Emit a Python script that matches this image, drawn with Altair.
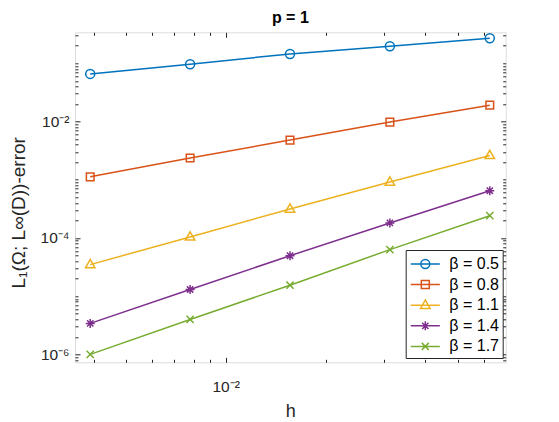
import altair as alt
import pandas as pd

# ---- data -------------------------------------------------------------
h_values = [1/256, 1/128, 1/64, 1/32, 1/16]
beta_labels = ["β = 0.5", "β = 0.8", "β = 1.1", "β = 1.4", "β = 1.7"]
err_b05 = [0.0658, 0.0966, 0.145, 0.196, 0.269]
err_b08 = [1.12e-3, 2.36e-3, 4.80e-3, 9.77e-3, 0.0191]
err_b11 = [3.48e-5, 1.04e-4, 3.14e-4, 9.14e-4, 2.61e-3]
err_b14 = [3.40e-6, 1.30e-5, 4.95e-5, 1.81e-4, 6.47e-4]
err_b17 = [1.0e-6, 3.98e-6, 1.54e-5, 6.3e-5, 2.41e-4]
series = [err_b05, err_b08, err_b11, err_b14, err_b17]

colors = ["#0072BD", "#D95319", "#EDB120", "#7E2F8E", "#77AC30"]

x_major_ticks = [1e-2]
x_minor_ticks = [4e-3, 5e-3, 6e-3, 7e-3, 8e-3, 9e-3, 2e-2, 3e-2, 4e-2, 5e-2, 6e-2]
y_major_ticks = [1e-6, 1e-4, 1e-2]
y_minor_ticks = [float(f"{k}e{n}") for n in range(-7, 0) for k in range(1, 10)
                 if 7.3e-7 <= float(f"{k}e{n}") <= 0.341 and float(f"{k}e{n}") not in y_major_ticks]

rows = []
for lab, vals in zip(beta_labels, series):
    for hv, ev in zip(h_values, vals):
        rows.append({"h": hv, "err": ev, "beta": lab})
df = pd.DataFrame(rows)

# ---- style ------------------------------------------------------------
FONT = "Liberation Sans"
DARK = "#262626"

marker_shapes = [
    "circle",
    "M-0.85,-0.85L0.85,-0.85L0.85,0.85L-0.85,0.85Z",
    "M0,-1.15L1.05,0.7L-1.05,0.7Z",
    "M0,-1L0,1M-1,0L1,0M-0.7,-0.7L0.7,0.7M-0.7,0.7L0.7,-0.7",
    "M-0.8,-0.8L0.8,0.8M-0.8,0.8L0.8,-0.8",
]
# legend symbols: unit = 9.5 px (symbol size 361), line spans ~29 px
legend_shapes = [
    "M-1.53,0L1.53,0M-0.47,0A0.47,0.47 0 1 1 0.47,0A0.47,0.47 0 1 1 -0.47,0",
    "M-1.53,0L1.53,0M-0.42,-0.42L0.42,-0.42L0.42,0.42L-0.42,0.42Z",
    "M-1.53,0L1.53,0M0,-0.55L0.5,0.34L-0.5,0.34Z",
    "M-1.53,0L1.53,0M0,-0.47L0,0.47M-0.47,0L0.47,0M-0.33,-0.33L0.33,0.33M-0.33,0.33L0.33,-0.33",
    "M-1.53,0L1.53,0M-0.37,-0.37L0.37,0.37M-0.37,0.37L0.37,-0.37",
]

x_scale = alt.Scale(type="log", domain=[0.003515, 0.0698], nice=False)
y_scale = alt.Scale(type="log", domain=[7.3e-7, 0.341], nice=False)

common_axis = dict(domain=False, grid=False, tickColor=DARK, tickWidth=1,
                   labelFont=FONT, labelFontSize=15.5, labelColor=DARK)

def make_axis(orient, values, size, labels=False, **kw):
    return alt.Axis(orient=orient, values=values, tickSize=size, offset=-size,
                    labels=labels, **common_axis, **kw)

color_plain = alt.Color("beta:N", scale=alt.Scale(domain=beta_labels, range=colors), legend=None)

base = alt.Chart(df)

lines = base.mark_line(strokeWidth=1.5).encode(
    x=alt.X("h:Q", scale=x_scale,
            axis=make_axis("bottom", x_major_ticks, 5, labels=True,
                           labelExpr="'10⁻²'", labelBaseline="alphabetic", labelPadding=29,
                           title="h", titleFont=FONT, titleFontSize=18, titleFontWeight="normal",
                           titleColor=DARK, titleBaseline="alphabetic", titleY=59)),
    y=alt.Y("err:Q", scale=y_scale,
            axis=make_axis("left", y_major_ticks, 5, labels=True,
                           labelExpr="'10' + (datum.value < 1e-5 ? '⁻⁶' : (datum.value < 1e-3 ? '⁻⁴' : '⁻²'))",
                           labelPadding=6,
                           title="L₁(Ω; L∞(D))-error", titleFont=FONT, titleFontSize=19,
                           titleFontWeight="normal", titleColor=DARK, titleAngle=270,
                           titleBaseline="middle", titleAlign="center", titleX=-62, titleY=180)),
    color=color_plain,
    detail="beta:N",
)

points = base.mark_point(filled=False, size=81, strokeWidth=1.5, opacity=1).encode(
    x=alt.X("h:Q", scale=x_scale, axis=make_axis("bottom", x_minor_ticks, 3, title=None)),
    y=alt.Y("err:Q", scale=y_scale, axis=make_axis("left", y_minor_ticks, 3, title=None)),
    color=color_plain,
    shape=alt.Shape("beta:N", scale=alt.Scale(domain=beta_labels, range=marker_shapes), legend=None),
)

legend_props = dict(title=None, orient="none", legendX=330.7, legendY=217.7,
                    padding=3.5, rowPadding=1.6, strokeColor=DARK,
                    fillColor="white", labelFont=FONT, labelFontSize=16,
                    labelColor="black", labelOffset=13.5, symbolOffset=5.6,
                    symbolSize=361, symbolStrokeWidth=1.5,
                    symbolFillColor="transparent")

legend_layer = base.mark_point(filled=False, size=361, strokeWidth=1.5, opacity=1).encode(
    x=alt.X("h:Q", scale=x_scale, axis=make_axis("top", x_major_ticks, 5, title=None)),
    y=alt.Y("err:Q", scale=y_scale, axis=make_axis("right", y_major_ticks, 5, title=None)),
    color=alt.Color("beta:N", scale=alt.Scale(domain=beta_labels, range=colors),
                    legend=alt.Legend(**legend_props)),
    shape=alt.Shape("beta:N", scale=alt.Scale(domain=beta_labels, range=legend_shapes),
                    legend=alt.Legend(**legend_props)),
).transform_filter("false")

minor_opp = base.mark_point(opacity=0).encode(
    x=alt.X("h:Q", scale=x_scale, axis=make_axis("top", x_minor_ticks, 3, title=None)),
    y=alt.Y("err:Q", scale=y_scale, axis=make_axis("right", y_minor_ticks, 3, title=None)),
).transform_filter("false")

chart = alt.layer(lines, points, legend_layer, minor_opp).resolve_axis(
    x="independent", y="independent"
).resolve_scale(
    color="independent", shape="independent"
).properties(
    width=430.7,
    height=330,
    title=alt.TitleParams("p = 1", font=FONT, fontSize=16, fontWeight="bold",
                          color="black", anchor="middle", frame="group",
                          baseline="alphabetic", offset=10.3, dy=19),
    autosize=alt.AutoSizeParams(type="none"),
    padding={"left": 75, "top": 32.3, "right": 53.3, "bottom": 59.7},
).configure_view(
    stroke=DARK, strokeWidth=1
).configure(
    font=FONT, background="white"
)

chart.save("out.html", embed_options={"renderer": "svg", "actions": False})
